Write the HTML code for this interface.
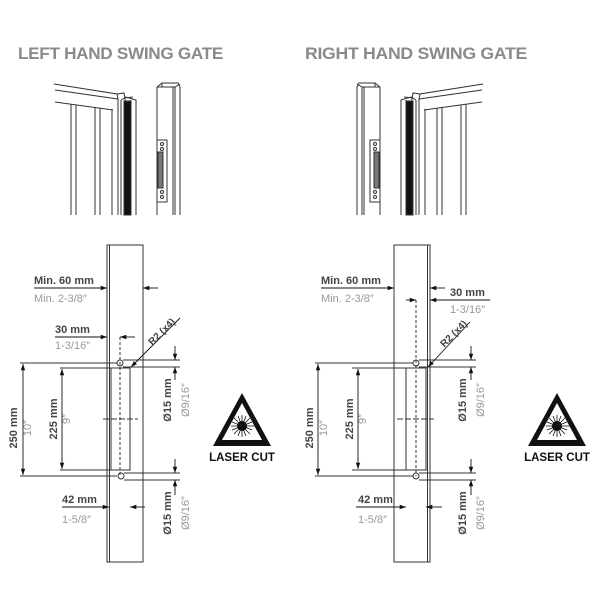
<!DOCTYPE html>
<html><head><style>body{margin:0;background:#fff}svg{display:block}</style></head><body>
<svg width="600" height="600" viewBox="0 0 600 600" xmlns="http://www.w3.org/2000/svg" font-family="Liberation Sans, sans-serif">
<defs>
<marker id="a" viewBox="0 0 10 10" refX="10" refY="5" markerWidth="7" markerHeight="7" orient="auto-start-reverse"><path d="M0,1.5L10,5L0,8.5z" fill="#111"/></marker>
<g id="gate" stroke="#333" stroke-width="1" fill="none">
<path d="M54,84L117,94L118,99L55,90M117,94L124,93L125,99M55,102L113,110M71,104V215M76,105V215M95,107V215M100,108V215M112,109V215M118,99V215"/>
<path d="M121,100L126,97L136,100V215M121,100V215M125,99V215M131,100V215M124,98L133,97"/>
<rect x="124" y="101" width="7" height="114" fill="#111"/>
<path d="M157,87L162,83H178L180,87V215M157,87V215M157,87H175L180,84M175,87V215M173,87V215M162,83V87"/>
<rect x="157" y="140" width="10" height="62" fill="#fff"/>
<rect x="158" y="152" width="5" height="36" fill="#777"/>
<circle cx="162" cy="144" r="1.5"/><circle cx="162" cy="149" r="1.5"/><circle cx="162" cy="192" r="1.5"/><circle cx="162" cy="197" r="1.5"/>
</g>
<g id="laser">
<path d="M0,0L-29,53H29Z" fill="#111"/><path d="M0,10L-20,47H20Z" fill="#fff"/>
<circle cx="0" cy="33" r="5" fill="#111"/>
<path d="M0,22V44M-11,33H11M-8,25L8,41M-8,41L8,25M-4,23L4,43M4,23L-4,43M-10,29L10,37M-10,37L10,29M0,33H18" stroke="#111" stroke-width="0.8"/>
</g>
</defs>
<g font-weight="bold" fill="#8a8a8a" font-size="17" letter-spacing="-0.3">
<text x="18" y="59" textLength="205" lengthAdjust="spacingAndGlyphs">LEFT HAND SWING GATE</text>
<text x="305" y="59" textLength="222" lengthAdjust="spacingAndGlyphs">RIGHT HAND SWING GATE</text>
</g>
<use href="#gate"/>
<use href="#gate" transform="translate(537,0) scale(-1,1)"/>

<!-- LEFT -->
<g stroke="#333" fill="none" stroke-width="1">
<rect x="107" y="245" width="36" height="317"/><path d="M109.5,245V562"/>
<rect x="111" y="368" width="19" height="102"/>
<circle cx="120" cy="363" r="3"/><circle cx="121" cy="476" r="3"/>
<path d="M120,337V476" stroke-dasharray="3,2"/>
<path d="M103,419H138" stroke-dasharray="6,2"/>
<path d="M20,363H117M20,476H117M60,368H111M60,470H111M123,360H180M123,367H180M124,473H180M124,480H180"/>
</g>
<g stroke="#111" fill="none" stroke-width="0.9">
<path d="M34,288H107" marker-end="url(#a)"/><path d="M158,288H143" marker-end="url(#a)"/>
<path d="M55,337H107" marker-end="url(#a)"/><path d="M135,337H120" marker-end="url(#a)"/>
<path d="M23,364V475" marker-start="url(#a)" marker-end="url(#a)"/>
<path d="M62,369V469" marker-start="url(#a)" marker-end="url(#a)"/>
<path d="M180,318L131,367" marker-end="url(#a)"/>
<path d="M175,346V360" marker-end="url(#a)"/><path d="M175,380V367" marker-end="url(#a)"/>
<path d="M175,459V473" marker-end="url(#a)"/><path d="M175,495V480" marker-end="url(#a)"/>
<path d="M62,507H109" marker-end="url(#a)"/><path d="M145,507H130" marker-end="url(#a)"/>
</g>
<g font-size="11" font-weight="bold" fill="#444">
<text x="34" y="284">Min. 60 mm</text><text x="55" y="333">30 mm</text><text x="62" y="503">42 mm</text>
<text transform="translate(17,428) rotate(-90)" text-anchor="middle">250 mm</text>
<text transform="translate(57,419) rotate(-90)" text-anchor="middle">225 mm</text>
<text transform="translate(164,334) rotate(-45)" text-anchor="middle" font-size="10">R2 (x4)</text>
<text transform="translate(171,400) rotate(-90)" text-anchor="middle">Ø15 mm</text>
<text transform="translate(171,513) rotate(-90)" text-anchor="middle">Ø15 mm</text>
</g>
<g font-size="11" fill="#999">
<text x="34" y="302">Min. 2-3/8″</text><text x="55" y="349">1-3/16″</text><text x="62" y="523">1-5/8″</text>
<text transform="translate(31,428) rotate(-90)" text-anchor="middle">10″</text>
<text transform="translate(70,419) rotate(-90)" text-anchor="middle">9″</text>
<text transform="translate(189,400) rotate(-90)" text-anchor="middle">Ø9/16″</text>
<text transform="translate(189,513) rotate(-90)" text-anchor="middle">Ø9/16″</text>
</g>
<use href="#laser" transform="translate(242,393)"/>
<text x="242" y="461" text-anchor="middle" font-size="11.5" font-weight="bold" fill="#111">LASER CUT</text>

<!-- RIGHT -->
<g stroke="#333" fill="none" stroke-width="1">
<rect x="394" y="245" width="36" height="317"/><path d="M427.5,245V562"/>
<rect x="406" y="368" width="20" height="102"/>
<circle cx="416" cy="363" r="3"/><circle cx="416" cy="476" r="3"/>
<path d="M416,300V476" stroke-dasharray="3,2"/>
<path d="M397,419H434" stroke-dasharray="6,2"/>
<path d="M315,363H413M315,476H413M352,368H406M352,470H406M419,360H476M419,367H476M419,473H476M419,480H476"/>
</g>
<g stroke="#111" fill="none" stroke-width="0.9">
<path d="M321,288H394" marker-end="url(#a)"/><path d="M445,288H430" marker-end="url(#a)"/>
<path d="M406,300H416" marker-end="url(#a)"/><path d="M490,300H430" marker-end="url(#a)"/>
<path d="M318,364V475" marker-start="url(#a)" marker-end="url(#a)"/>
<path d="M358,369V469" marker-start="url(#a)" marker-end="url(#a)"/>
<path d="M470,322L428,367" marker-end="url(#a)"/>
<path d="M471,346V360" marker-end="url(#a)"/><path d="M471,380V367" marker-end="url(#a)"/>
<path d="M471,459V473" marker-end="url(#a)"/><path d="M471,495V480" marker-end="url(#a)"/>
<path d="M356,507H406" marker-end="url(#a)"/><path d="M442,507H426" marker-end="url(#a)"/>
</g>
<g font-size="11" font-weight="bold" fill="#444">
<text x="321" y="284">Min. 60 mm</text><text x="450" y="296">30 mm</text><text x="358" y="503">42 mm</text>
<text transform="translate(313,428) rotate(-90)" text-anchor="middle">250 mm</text>
<text transform="translate(353,419) rotate(-90)" text-anchor="middle">225 mm</text>
<text transform="translate(456,336) rotate(-45)" text-anchor="middle" font-size="10">R2 (x4)</text>
<text transform="translate(466,400) rotate(-90)" text-anchor="middle">Ø15 mm</text>
<text transform="translate(466,513) rotate(-90)" text-anchor="middle">Ø15 mm</text>
</g>
<g font-size="11" fill="#999">
<text x="321" y="302">Min. 2-3/8″</text><text x="450" y="313">1-3/16″</text><text x="358" y="523">1-5/8″</text>
<text transform="translate(327,428) rotate(-90)" text-anchor="middle">10″</text>
<text transform="translate(366,419) rotate(-90)" text-anchor="middle">9″</text>
<text transform="translate(484,400) rotate(-90)" text-anchor="middle">Ø9/16″</text>
<text transform="translate(484,513) rotate(-90)" text-anchor="middle">Ø9/16″</text>
</g>
<use href="#laser" transform="translate(557,393)"/>
<text x="557" y="461" text-anchor="middle" font-size="11.5" font-weight="bold" fill="#111">LASER CUT</text>
</svg>
</body></html>
